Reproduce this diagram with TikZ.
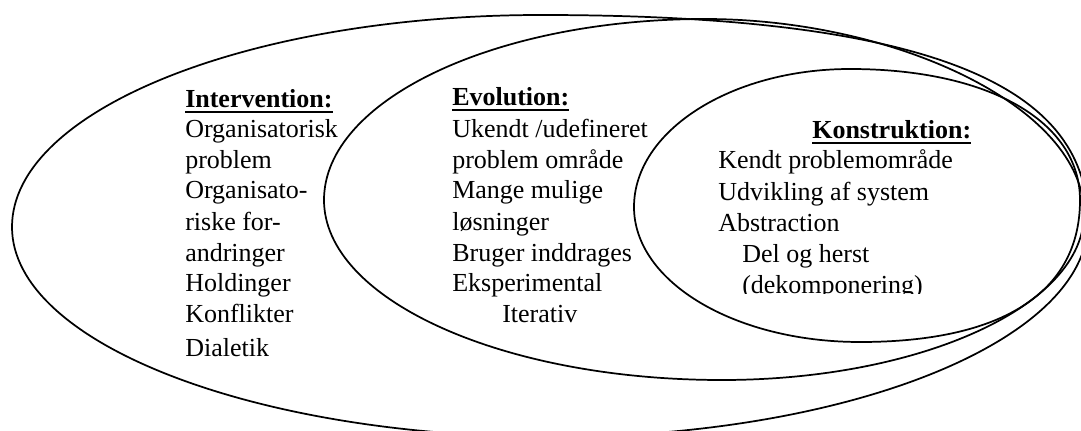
\documentclass[tikz,border=0pt]{standalone}
\usepackage{fontspec}
\setmainfont{Liberation Serif}
\usepackage{tikz}

\newcommand{\headul}[1]{\setbox0=\hbox{\bfseries #1}\rlap{\rule[-3.4pt]{\wd0}{1.4pt}}\box0}
\tikzset{
  rimline/.style={line width=1.3pt},
  txt/.style={anchor=base west, inner sep=0pt, font=\fontsize{19.5}{23}\selectfont}
}

\begin{document}
\begin{tikzpicture}[x=0.75pt,y=-0.75pt]
\useasboundingbox (0,0) rectangle (1081,431);
\clip (0,0) rectangle (1081,431);
% end points of the ovals
\coordinate (oL) at (12,227);
\coordinate (oT) at (541,15);
\coordinate (oR) at (1088,222);
\coordinate (oB) at (552,437);
\coordinate (mL) at (324,200);
\coordinate (mT) at (705,19);
\coordinate (mR) at (1084,214);
\coordinate (mB) at (722,380);
\coordinate (kL) at (634,207);
\coordinate (kT) at (850,69);
\coordinate (kR) at (1080,200);
\coordinate (kB) at (860,342);
\begin{scope}[rimline]
% draws ovals
\draw (oL) .. controls (12,110) and (249,15) .. (oT)
  .. controls (951,15) and (1088,94) .. (oR)
  .. controls (1088,341) and (848,437) .. (oB)
  .. controls (254,437) and (12,343) .. cycle;
\draw (mL) .. controls (324,100) and (495,19) .. (mT)
  .. controls (895,19) and (1084,107) .. (mR)
  .. controls (1084,306) and (920,380) .. (mB)
  .. controls (501,380) and (324,299) .. cycle;
\draw (kL) .. controls (634,131) and (731,69) .. (kT)
  .. controls (988,69) and (1080,121) .. (kR)
  .. controls (1080,292) and (1003,342) .. (kB)
  .. controls (735,342) and (634,282) .. cycle;
\end{scope}
% intervention text
\node[txt] (iv0) at (185,108) {\headul{Intervention:}};
\node[txt] (iv1) at (185,138) {Organisatorisk};
\node[txt] (iv2) at (185,168.5) {problem};
\node[txt] (iv3) at (185,199) {Organisato-};
\node[txt] (iv4) at (185,230) {riske for-};
\node[txt] (iv5) at (185,261) {andringer};
\node[txt] (iv6) at (185,291.5) {Holdinger};
\node[txt] (iv7) at (185,322) {Konflikter};
\node[txt] (iv8) at (185,356) {Dialetik};
% evolution text
\node[txt] (ev0) at (452,106) {\headul{Evolution:}};
\node[txt] (ev1) at (452,138) {Ukendt /udefineret};
\node[txt] (ev2) at (452,168.5) {problem område};
\node[txt] (ev3) at (452,199) {Mange mulige};
\node[txt] (ev4) at (452,230) {løsninger};
\node[txt] (ev5) at (452,261) {Bruger inddrages};
\node[txt] (ev6) at (452,291.5) {Eksperimental};
\node[txt] (ev7) at (502,322) {Iterativ};
% konstruktion text
\node[txt] (ko0) at (812,139) {\headul{Konstruktion:}};
\node[txt] (ko1) at (718,169) {Kendt problemområde};
\node[txt] (ko2) at (718,200) {Udvikling af system};
\node[txt] (ko3) at (718,231) {Abstraction};
\node[txt] (ko4) at (742,262) {Del og herst};
\begin{scope}
\clip (700,270) rectangle (1000,293);
\node[txt] (ko5) at (742,293.5) {(dekomponering)};
\end{scope}
\end{tikzpicture}
\end{document}
